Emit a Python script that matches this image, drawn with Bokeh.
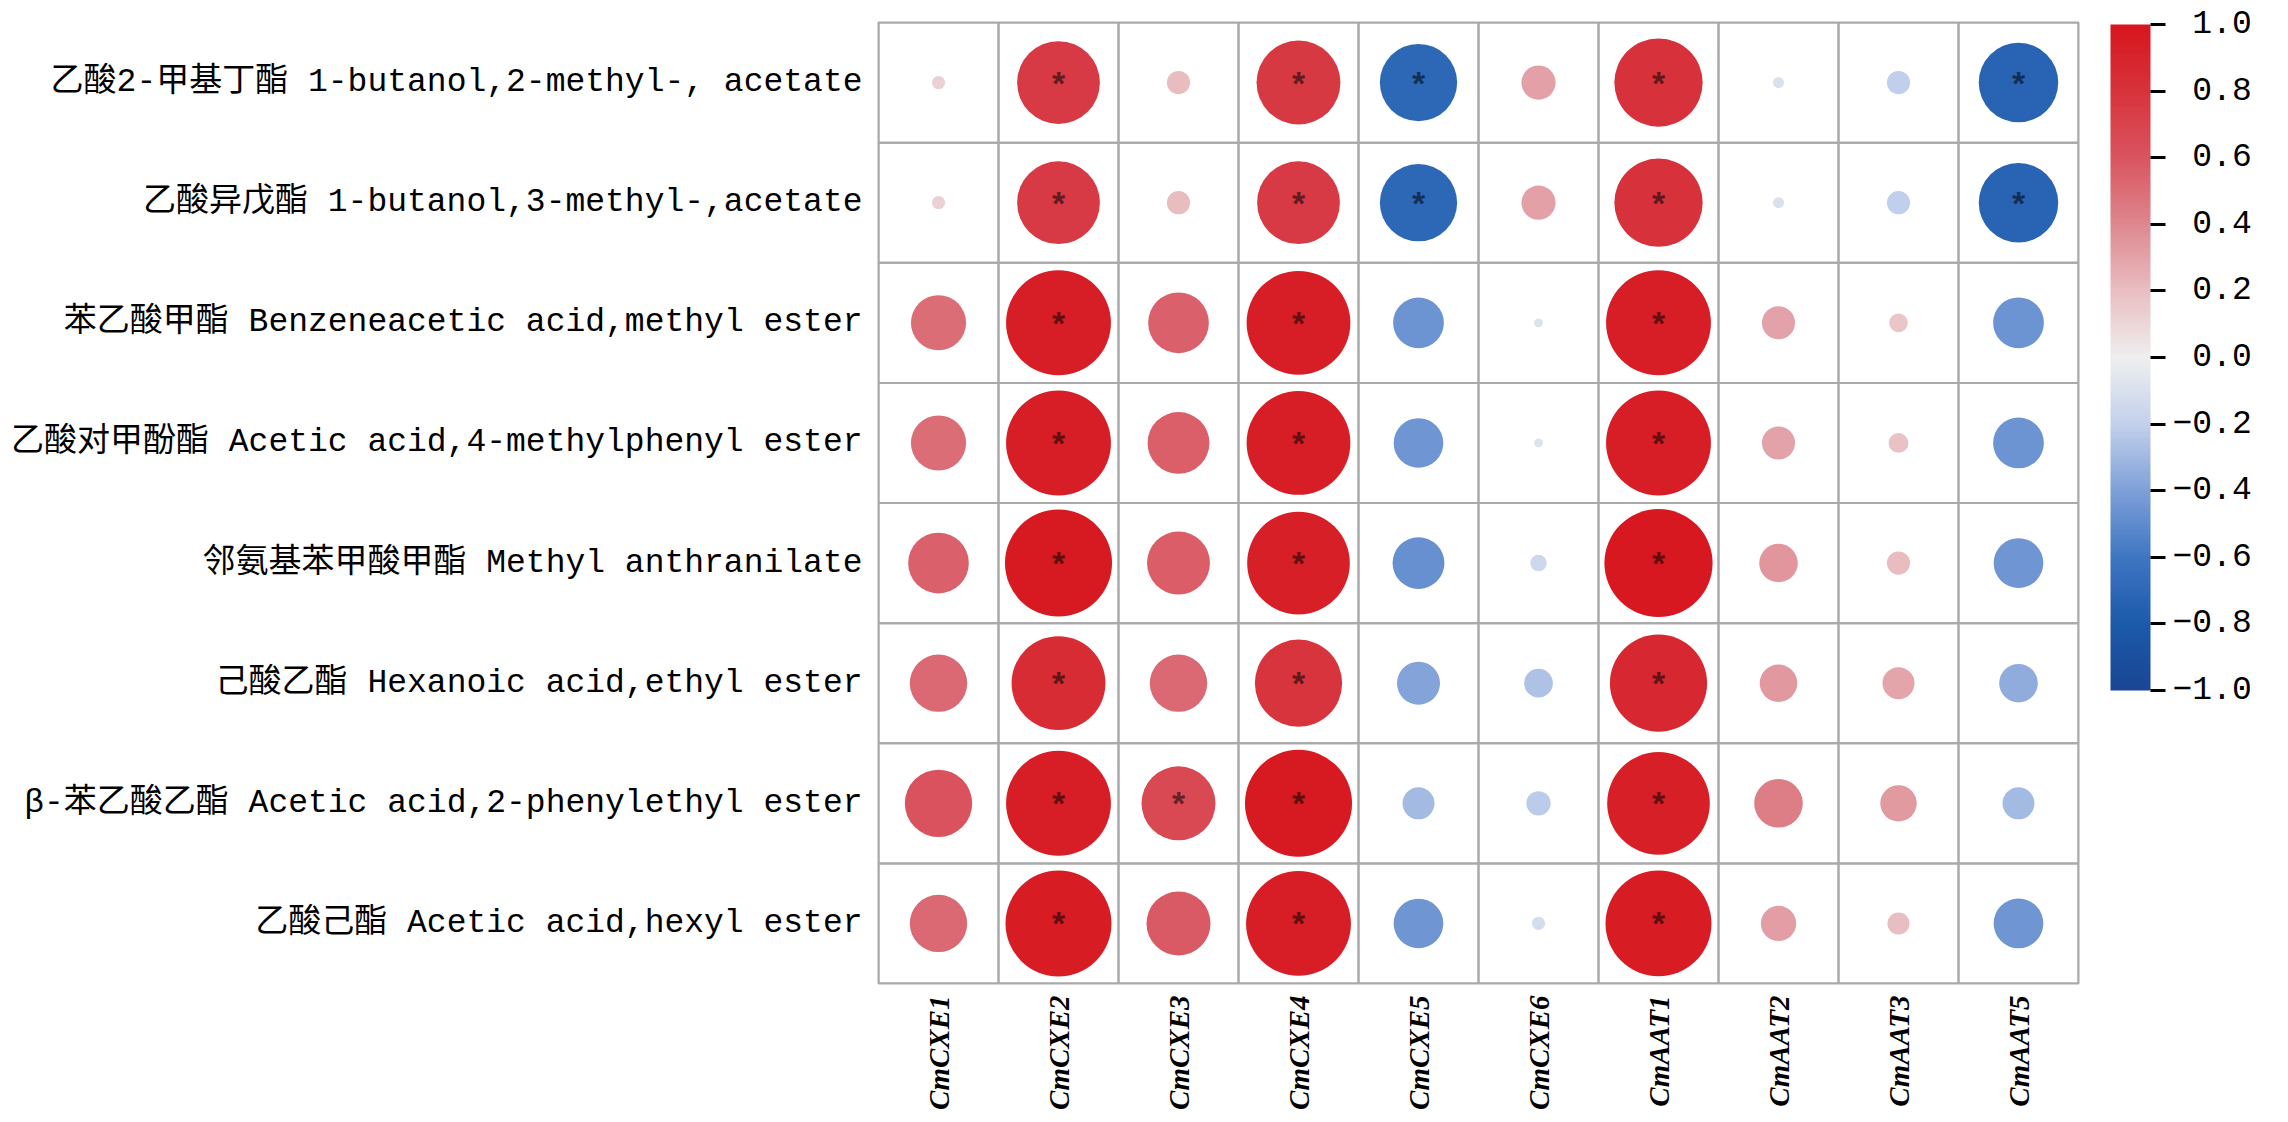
import math
from bokeh.plotting import figure
from bokeh.models import (ColumnDataSource, FactorRange, LinearColorMapper, ColorBar,
                          FixedTicker, CustomJSTickFormatter)
from bokeh.transform import transform
from bokeh.core.properties import value
from bokeh.embed import file_html
from bokeh.resources import INLINE

genes = ["CmCXE1", "CmCXE2", "CmCXE3", "CmCXE4", "CmCXE5", "CmCXE6",
         "CmAAT1", "CmAAT2", "CmAAT3", "CmAAT5"]

compounds = [
    "乙酸2-甲基丁酯 1-butanol,2-methyl-, acetate",
    "乙酸异戊酯 1-butanol,3-methyl-,acetate",
    "苯乙酸甲酯 Benzeneacetic acid,methyl ester",
    "乙酸对甲酚酯 Acetic acid,4-methylphenyl ester",
    "邻氨基苯甲酸甲酯 Methyl anthranilate",
    "己酸乙酯 Hexanoic acid,ethyl ester",
    "β-苯乙酸乙酯 Acetic acid,2-phenylethyl ester",
    "乙酸己酯 Acetic acid,hexyl ester",
]

# correlation coefficients, one list per compound (order of genes)
r_2methylbutyl = [0.12, 0.75, 0.21, 0.76, -0.70, 0.31, 0.80, -0.10, -0.21, -0.72]
r_isoamyl      = [0.12, 0.75, 0.21, 0.75, -0.70, 0.31, 0.80, -0.10, -0.21, -0.72]
r_methylphenac = [0.50, 0.95, 0.55, 0.94, -0.46, -0.08, 0.95, 0.30, 0.17, -0.46]
r_cresyl       = [0.50, 0.95, 0.56, 0.94, -0.45, -0.08, 0.95, 0.30, 0.18, -0.46]
r_anthranilate = [0.55, 0.97, 0.57, 0.93, -0.47, -0.15, 0.98, 0.35, 0.21, -0.45]
r_hexanoate    = [0.52, 0.85, 0.52, 0.79, -0.39, -0.26, 0.88, 0.34, 0.29, -0.35]
r_phenethyl    = [0.61, 0.95, 0.67, 0.97, -0.29, -0.22, 0.93, 0.44, 0.33, -0.29]
r_hexyl        = [0.52, 0.96, 0.58, 0.95, -0.45, -0.12, 0.96, 0.32, 0.20, -0.45]

# significance marks (1 = "*")
s_2methylbutyl = [0, 1, 0, 1, 1, 0, 1, 0, 0, 1]
s_isoamyl      = [0, 1, 0, 1, 1, 0, 1, 0, 0, 1]
s_methylphenac = [0, 1, 0, 1, 0, 0, 1, 0, 0, 0]
s_cresyl       = [0, 1, 0, 1, 0, 0, 1, 0, 0, 0]
s_anthranilate = [0, 1, 0, 1, 0, 0, 1, 0, 0, 0]
s_hexanoate    = [0, 1, 0, 1, 0, 0, 1, 0, 0, 0]
s_phenethyl    = [0, 1, 1, 1, 0, 0, 1, 0, 0, 0]
s_hexyl        = [0, 1, 0, 1, 0, 0, 1, 0, 0, 0]

r_rows = [r_2methylbutyl, r_isoamyl, r_methylphenac, r_cresyl,
          r_anthranilate, r_hexanoate, r_phenethyl, r_hexyl]
s_rows = [s_2methylbutyl, s_isoamyl, s_methylphenac, s_cresyl,
          s_anthranilate, s_hexanoate, s_phenethyl, s_hexyl]

colorbar_ticks = [-1.0, -0.8, -0.6, -0.4, -0.2, 0.0, 0.2, 0.4, 0.6, 0.8, 1.0]

# colour ramp anchors (value -> colour)
ramp_vals = [-1.0, -0.8, -0.6, -0.4, -0.2, 0.0, 0.2, 0.4, 0.6, 0.8, 1.0]
ramp_cols = ["#1A4694", "#1C5AAB", "#3F76C2", "#7FA0D8", "#C3D1EC", "#EFEFEF",
             "#E9BEC2", "#DE8890", "#D95560", "#D7333C", "#D7161E"]


def hex2rgb(h):
    return tuple(int(h[i:i + 2], 16) for i in (1, 3, 5))


def build_palette(n=256):
    out = []
    for k in range(n):
        v = -1 + 2 * k / (n - 1)
        for j in range(len(ramp_vals) - 1):
            if ramp_vals[j] <= v <= ramp_vals[j + 1] + 1e-12:
                t = (v - ramp_vals[j]) / (ramp_vals[j + 1] - ramp_vals[j])
                a, b = hex2rgb(ramp_cols[j]), hex2rgb(ramp_cols[j + 1])
                c = [round(a[i] + (b[i] - a[i]) * t) for i in range(3)]
                out.append("#%02X%02X%02X" % tuple(c))
                break
    return out


palette = build_palette()
mapper = LinearColorMapper(palette=palette, low=-1, high=1)

xs, ys, rs, rad = [], [], [], []
sx, sy = [], []
for comp, rrow, srow in zip(compounds, r_rows, s_rows):
    for g, r, s in zip(genes, rrow, srow):
        xs.append(g)
        ys.append(comp)
        rs.append(r)
        rad.append(0.46 * abs(r))
        if s:
            sx.append(g)
            sy.append(comp)

src = ColumnDataSource(dict(gene=xs, compound=ys, r=rs, rad=rad))
star_src = ColumnDataSource(dict(gene=sx, compound=sy, t=["*"] * len(sx)))

GRID = "#A9A9A9"

p = figure(width=2272, height=1115,
           x_range=FactorRange(*genes), y_range=FactorRange(*compounds[::-1]),
           output_backend="svg", toolbar_location=None,
           min_border_left=878, min_border_top=22, min_border_right=194,
           min_border_bottom=132)
p.background_fill_color = "white"
p.border_fill_color = "white"
p.outline_line_color = GRID
p.outline_line_width = 2
p.grid.visible = False

p.rect(x="gene", y="compound", width=1, height=1, source=src,
       fill_color=None, line_color=GRID, line_width=2)

p.circle(x="gene", y="compound", radius="rad", source=src,
         fill_color=transform("r", mapper), line_color=None)

p.text(x="gene", y="compound", text="t", source=star_src,
       text_font=value("Liberation Sans"), text_font_size="34px",
       text_font_style="bold", text_align="center", text_baseline="middle",
       text_color="#000000", text_alpha=0.55, y_offset=0)

for ax in (p.xaxis[0], p.yaxis[0]):
    ax.axis_line_color = None
    ax.major_tick_line_color = None
    ax.minor_tick_line_color = None
    ax.major_tick_in = 0
    ax.major_tick_out = 0
    ax.major_label_text_color = "black"

p.xaxis.major_label_orientation = math.pi / 2
p.xaxis.major_label_text_font = "Liberation Serif"
p.xaxis.major_label_text_font_style = "bold italic"
p.xaxis.major_label_text_font_size = "29px"
p.xaxis.major_label_standoff = 12

p.yaxis.major_label_text_font = "'Liberation Mono', 'Noto Sans CJK SC'"
p.yaxis.major_label_text_font_size = "33px"
p.yaxis.major_label_standoff = 16

cb = ColorBar(color_mapper=mapper,
              ticker=FixedTicker(ticks=colorbar_ticks),
              formatter=CustomJSTickFormatter(
                  code="return (tick < -1e-9 ? '\u2212' : '\u00a0') + Math.abs(tick).toFixed(1);"),
              width=40, height=666, location=(32, 293),
              padding=0, margin=0,
              major_tick_in=0, major_tick_out=15,
              major_tick_line_color="black", major_tick_line_width=3,
              minor_tick_line_color=None,
              label_standoff=7,
              major_label_text_font="Liberation Mono",
              major_label_text_font_size="33px",
              major_label_text_color="black",
              bar_line_color=None, border_line_color=None,
              background_fill_color=None)
p.add_layout(cb, "right")

open("out.html", "w").write(file_html(p, INLINE))
